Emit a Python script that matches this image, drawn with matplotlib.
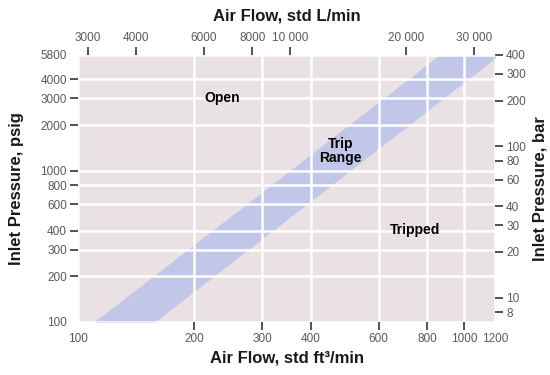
import matplotlib
matplotlib.use("Agg")
import matplotlib.pyplot as plt
from matplotlib.ticker import FixedLocator, NullLocator, NullFormatter

plt.rcParams['font.family'] = ['Liberation Sans', 'DejaVu Sans']

# ---- data ----
flow_ticks_cfm = [100, 200, 300, 400, 600, 800, 1000, 1200]
flow_labels_cfm = ["100", "200", "300", "400", "600", "800", "1000", "1200"]
flow_ticks_lpm = [3000, 4000, 6000, 8000, 10000, 20000, 30000]
flow_labels_lpm = ["3000", "4000", "6000", "8000", "10 000", "20 000", "30 000"]
press_ticks_psig = [100, 200, 300, 400, 600, 800, 1000, 2000, 3000, 4000, 5800]
press_labels_psig = ["100", "200", "300", "400", "600", "800", "1000", "2000", "3000", "4000", "5800"]
press_ticks_bar = [8, 10, 20, 30, 40, 60, 80, 100, 200, 300, 400]
press_labels_bar = ["8", "10", "20", "30", "40", "60", "80", "100", "200", "300", "400"]

# trip band edges (pressure psig vs flow cfm)
band_pressure = [100, 5800]
band_flow_low = [110, 861]
band_flow_high = [158, 1232]

region_names = ["Open", "Trip\nRange", "Tripped"]
region_flow = [236, 477, 747]
region_press = [3013, 1346, 405]

CFM_TO_LPM = 28.317
BAR_TO_PSI = 14.5

# ---- figure ----
fig = plt.figure(figsize=(5.5, 3.75), dpi=100)
ax = fig.add_axes([78/550, 53/375, 417/550, 267/375])
ax.set_xscale('log')
ax.set_yscale('log')
ax.set_xlim(flow_ticks_cfm[0], flow_ticks_cfm[-1])
ax.set_ylim(press_ticks_psig[0], press_ticks_psig[-1])
ax.set_facecolor('#e9e1e3')
for s in ax.spines.values():
    s.set_visible(False)

ax.fill_betweenx(band_pressure, band_flow_low, band_flow_high,
                 color='#c2c7ea', lw=0, zorder=1)

ax.xaxis.set_major_locator(FixedLocator(flow_ticks_cfm))
ax.set_xticklabels(flow_labels_cfm)
ax.yaxis.set_major_locator(FixedLocator(press_ticks_psig))
ax.set_yticklabels(press_labels_psig)
for a in (ax.xaxis, ax.yaxis):
    a.set_minor_locator(NullLocator())
    a.set_minor_formatter(NullFormatter())

ax.grid(True, which='major', color='white', lw=1.8, zorder=2)
ax.set_axisbelow(False)

tick_kw = dict(length=6, width=1.3, color='#444444', labelcolor='#5a5a5a',
               labelsize=8.5, pad=2)
ax.tick_params(axis='both', **tick_kw)
# corner labels without tick marks
xt = ax.xaxis.get_major_ticks()
xt[0].tick1line.set_visible(False)
xt[-1].tick1line.set_visible(False)
yt = ax.yaxis.get_major_ticks()
yt[0].tick1line.set_visible(False)
yt[-1].tick1line.set_visible(False)

for name, fx, py in zip(region_names, region_flow, region_press):
    ax.text(fx, py, name, ha='center', va='center', fontsize=10,
            fontweight='bold', color='black', linespacing=1.0, zorder=3)

# secondary axes
secx = ax.secondary_xaxis('top', functions=(lambda c: c * CFM_TO_LPM,
                                            lambda l: l / CFM_TO_LPM))
secx.set_xticks(flow_ticks_lpm)
secx.set_xticklabels(flow_labels_lpm)
secx.xaxis.set_minor_locator(NullLocator())
secx.xaxis.set_minor_formatter(NullFormatter())
secx.tick_params(axis='x', **tick_kw)
secx.tick_params(axis='x', which='minor', length=0)
for s in secx.spines.values():
    s.set_visible(False)

secy = ax.secondary_yaxis('right', functions=(lambda p: p / BAR_TO_PSI,
                                              lambda b: b * BAR_TO_PSI))
secy.set_yticks(press_ticks_bar)
secy.set_yticklabels(press_labels_bar)
secy.yaxis.set_minor_locator(NullLocator())
secy.yaxis.set_minor_formatter(NullFormatter())
secy.tick_params(axis='y', **tick_kw)
secy.tick_params(axis='y', which='minor', length=0)
for s in secy.spines.values():
    s.set_visible(False)

title_kw = dict(fontsize=12, color='#1a1a1a', fontweight='bold')
ax.set_xlabel("Air Flow, std ft³/min", labelpad=4, **title_kw)
ax.set_ylabel("Inlet Pressure, psig", labelpad=12, **title_kw)
secx.set_xlabel("Air Flow, std L/min", labelpad=8, **title_kw)
secy.set_ylabel("Inlet Pressure, bar", labelpad=5, rotation=90, **title_kw)

fig.savefig("out.png", dpi=100)
